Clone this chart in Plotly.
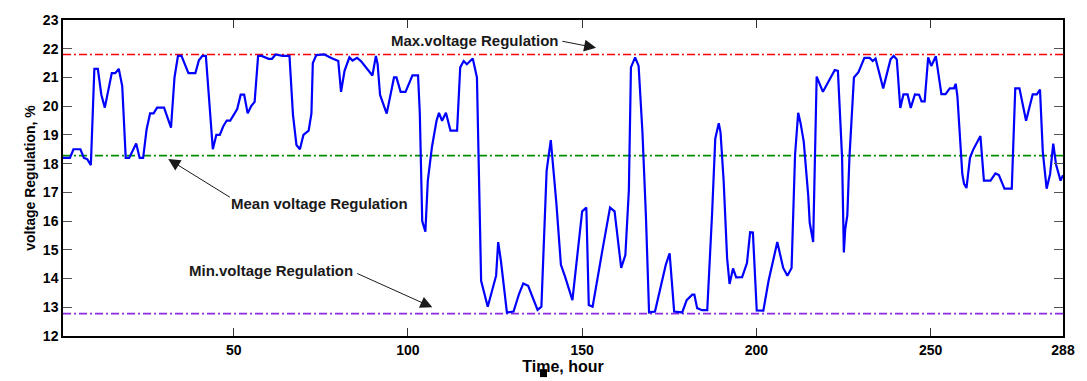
import plotly.graph_objects as go

# Vertices of the voltage-regulation curve
hours = [1, 3, 4, 6, 7, 8, 9, 10, 11, 12, 13, 15, 16, 17, 18, 19, 20, 22, 23, 24,
         25, 26, 27, 28, 30, 31, 32, 33, 34, 35, 37, 39, 40, 41, 42, 44, 45, 46, 47, 48,
         49, 51, 52, 53, 54, 55, 56, 57, 58, 60, 61, 62, 64, 66, 67, 68, 69, 70, 71.5, 72.3,
         72.7, 73.7, 76, 78, 80, 80.8, 81.8, 83.2, 84.1, 85.4, 86.5, 89.8, 90.8, 91.3, 92, 93.9, 96, 96.7, 97.9, 99.3,
         101.3, 102.9, 103.4, 104.1, 105, 105.7, 106.9, 108.2, 108.9, 109.8, 110.9, 112.2, 114.1, 115, 116, 116.9, 118.6, 119.8,
         120.3, 121, 122.9, 124.5, 125.3, 125.9, 126.7, 128.4, 130.3, 131.9, 133.1, 134.5, 137.2, 138.3, 139.8, 141,
         141.4, 142.6, 143.9, 145, 147.2, 150, 151.2, 151.9, 153, 154.8, 155.9, 158, 159.3, 161.2, 162.4, 163.4,
         164, 165.2, 166.2, 167.3, 168.3, 169.2, 170.9, 174, 175.1, 176.4, 178.7, 180, 181.6, 182.2, 183, 184.4,
         185.9, 187.3, 188.2, 189.2, 189.7, 190.6, 191.6, 192.3, 193.3, 194.2, 195.9, 197.3, 198.2, 199, 200.1, 202,
         203.5, 206, 207.7, 208.9, 210.1, 211.1, 212, 212.7, 213.6, 214.9, 215.3, 216.3, 216.8, 217.3, 219.1, 222.5,
         223.4, 224.6, 225.1, 225.5, 226.1, 226.7, 228, 229.3, 231, 232.5, 233.4, 234.2, 236.4, 238.5, 239.4, 240.3,
         241.3, 242.2, 243.4, 244.3, 245.5, 246.7, 247.4, 248.3, 249.3, 250.2, 251.5, 253.1, 254.3, 255.5, 256.7, 257.2,
         257.7, 259.1, 259.6, 260.3, 261.3, 262.2, 264.3, 265.3, 267.2, 268.6, 269.6, 271.2, 273.3, 274.3, 275.5, 277.4,
         279.3, 280.5, 281.4, 282.2, 283.3, 284.3, 285.2, 286, 287.3, 288]
regulation = [18.2, 18.2, 18.5, 18.5, 18.2, 18.15, 17.95, 21.3, 21.3, 20.4, 19.95, 21.15, 21.15, 21.3, 20.7, 18.2, 18.2, 18.7, 18.2, 18.2,
              19.2, 19.75, 19.75, 19.95, 19.95, 19.6, 19.25, 21.0, 21.75, 21.75, 21.15, 21.15, 21.6, 21.75, 21.75, 18.5, 19.0, 19.0, 19.3, 19.5,
              19.5, 19.9, 20.4, 20.4, 19.75, 20.0, 20.15, 21.75, 21.75, 21.65, 21.65, 21.8, 21.75, 21.75, 19.7, 18.65, 18.5, 19.0, 19.15, 19.75,
              21.5, 21.78, 21.8, 21.68, 21.57, 20.5, 21.23, 21.7, 21.59, 21.68, 21.57, 21.07, 21.75, 21.46, 20.39, 19.74, 21.0, 21.0, 20.5, 20.5,
              21.07, 21.07, 19.77, 16.0, 15.63, 17.41, 18.59, 19.49, 19.77, 19.49, 19.77, 19.15, 19.15, 21.35, 21.57, 21.46, 21.66, 21.0,
              17.41, 13.92, 13.02, 13.81, 14.1, 15.27, 14.6, 12.82, 12.85, 13.47, 13.83, 13.75, 12.91, 13.02, 17.75, 18.82,
              18.26, 16.62, 14.48, 14.1, 13.25, 16.34, 16.47, 13.08, 13.02, 14.37, 15.05, 16.47, 16.34, 14.37, 14.82, 17.07,
              21.35, 21.7, 21.4, 19.1, 16.17, 12.82, 12.85, 14.48, 14.88, 12.85, 12.82, 13.25, 13.44, 13.44, 12.97, 12.9,
              12.9, 16.29, 18.87, 19.41, 19.1, 17.41, 14.71, 13.81, 14.35, 14.04, 14.05, 14.54, 15.61, 15.6, 12.89, 12.88,
              13.92, 15.27, 14.37, 14.1, 14.37, 18.31, 19.77, 19.4, 18.76, 16.85, 15.95, 15.27, 18.2, 21.03, 20.5, 21.26,
              21.23, 18.2, 14.91, 15.72, 16.2, 18.2, 21.0, 21.18, 21.68, 21.68, 21.57, 21.66, 20.62, 21.63, 21.75, 21.63,
              19.94, 20.41, 20.41, 19.94, 20.41, 20.4, 20.17, 20.17, 21.7, 21.4, 21.74, 20.42, 20.42, 20.62, 20.62, 20.78,
              20.33, 17.64, 17.3, 17.15, 18.2, 18.48, 18.96, 17.41, 17.41, 17.66, 17.6, 17.13, 17.13, 20.62, 20.62, 19.49,
              20.41, 20.41, 20.58, 18.42, 17.13, 17.64, 18.7, 17.97, 17.41, 17.6]

max_reg = 21.8
mean_reg = 18.28
min_reg = 12.78
span = [1, 288]

x_ticks = [50, 100, 150, 200, 250, 288]
y_ticks = [12, 13, 14, 15, 16, 17, 18, 19, 20, 21, 22, 23]

FONT = "Liberation Sans, Arial, sans-serif"

fig = go.Figure()
for val, col in [(max_reg, "#FF0000"), (mean_reg, "#009000"), (min_reg, "#8A2BE2")]:
    fig.add_trace(go.Scatter(x=span, y=[val] * 2, mode="lines",
                             line=dict(color=col, width=1.6, dash="8px,3px,2px,3px"),
                             hoverinfo="skip"))
fig.add_trace(go.Scatter(x=hours, y=regulation, mode="lines",
                         line=dict(color="#0000FF", width=2.2)))

labels = [
    ("Max.voltage Regulation", 119.3, 22.3, 143.9, 22.27, 154.0, 22.03),
    ("Mean voltage Regulation", 74.7, 16.6, 49.3, 16.8, 31.2, 18.16),
    ("Min.voltage Regulation", 60.8, 14.27, 85.0, 14.2, 107.0, 13.0),
]
for text, tx, ty, ax, ay, hx, hy in labels:
    fig.add_annotation(x=tx, y=ty, text="<b>%s</b>" % text, showarrow=False,
                       font=dict(family=FONT, size=15, color="#1a1a1a"))
    fig.add_annotation(x=hx, y=hy, ax=ax, ay=ay, axref="x", ayref="y", text="",
                       showarrow=True, arrowhead=2, arrowsize=2.4, arrowwidth=1,
                       arrowcolor="#1a1a1a")

fig.add_shape(type="rect", xref="paper", yref="paper", x0=0.477, x1=0.484, y0=-0.13, y1=-0.105,
              fillcolor="black", line=dict(width=0))

fig.update_layout(
    width=1087, height=381,
    margin=dict(l=63, r=15, t=14, b=41),
    paper_bgcolor="white", plot_bgcolor="white",
    showlegend=False,
    font=dict(family=FONT, size=13, color="black"),
    xaxis=dict(range=[1, 288], tickvals=x_ticks, ticktext=[str(v) for v in x_ticks],
               ticks="inside", ticklen=8, tickcolor="#333", mirror="ticks",
               showline=True, linecolor="black", linewidth=1.5, showgrid=False, zeroline=False,
               tickfont=dict(family=FONT, size=14, color="black", weight="bold"),
               title=dict(text="<b>Time, hour</b>", font=dict(family=FONT, size=16), standoff=0)),
    yaxis=dict(range=[12, 23], tickvals=y_ticks,
               ticks="inside", ticklen=9, tickcolor="#555", mirror="ticks",
               showline=True, linecolor="black", linewidth=1.5, showgrid=False, zeroline=False,
               tickfont=dict(family=FONT, size=14, color="black", weight="bold"),
               title=dict(text="<b>voltage Regulation, %</b>", font=dict(family=FONT, size=14), standoff=4)),
)

fig.write_html("out.html")
